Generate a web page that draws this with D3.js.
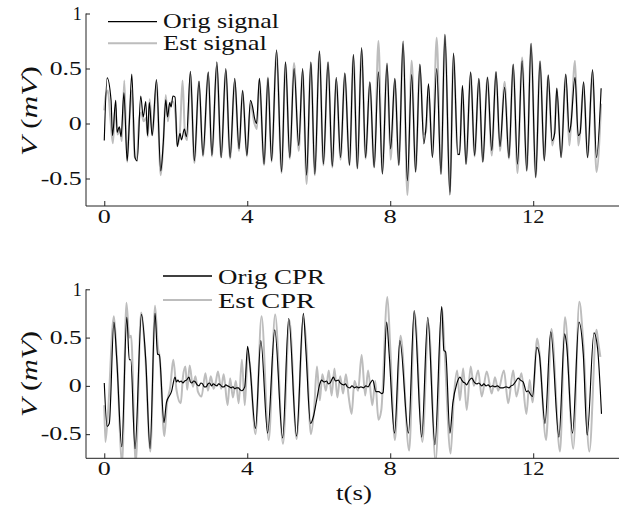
<!DOCTYPE html>
<html><head><meta charset="utf-8">
<script src="https://cdn.jsdelivr.net/npm/d3@7"></script>
<style>body{margin:0;background:#fff}svg{display:block}</style>
</head><body><svg id="c" width="619" height="516"></svg>
<script>
// ---------- data ----------
const xTickValues = [0, 4, 8, 12];
const xTickLabels = ["0", "4", "8", "12"];
const yTickValues = [-0.5, 0, 0.5, 1];
const yTickLabels = ["-0.5", "0", "0.5", "1"];
const topLegend = ["Orig signal", "Est signal"];
const bottomLegend = ["Orig CPR", "Est CPR"];
const xLabel = "t(s)";

// [time (s), value (mV)]
const origSignal = [[0,-0.155],[0.08,0.415],[0.19,0.21],[0.23,-0.11],[0.32,0.21],[0.36,-0.08],[0.42,-0.03],[0.47,-0.12],[0.55,0.28],[0.64,-0.34],[0.70,0],[0.77,0.45],[0.86,-0.31],[0.92,-0.34],[1.02,0.25],[1.09,0.06],[1.16,0.2],[1.21,-0.11],[1.26,0.19],[1.34,-0.11],[1.46,0.4],[1.58,-0.43],[1.65,-0.18],[1.72,0.215],[1.77,0.06],[1.83,0.19],[1.87,0.15],[1.92,0.25],[1.98,0.24],[2.04,-0.21],[2.12,-0.09],[2.16,-0.15],[2.24,-0.05],[2.30,-0.12],[2.41,0.475],[2.52,-0.34],[2.65,0.385],[2.76,-0.29],[2.91,0.47],[3.01,-0.29],[3.15,0.56],[3.27,-0.31],[3.40,0.50],[3.52,-0.31],[3.65,0.41],[3.77,-0.23],[3.87,0.30],[3.99,-0.29],[4.09,0.21],[4.15,0.15],[4.21,0.04],[4.26,0],[4.34,0.41],[4.47,-0.37],[4.58,0.415],[4.68,-0.34],[4.82,0.67],[4.96,-0.44],[5.07,0.56],[5.19,-0.31],[5.31,0.50],[5.44,-0.2],[5.55,0.50],[5.66,-0.47],[5.78,0.56],[5.89,-0.46],[6.02,0.66],[6.13,-0.37],[6.26,0.56],[6.38,-0.39],[6.49,0.42],[6.61,-0.31],[6.73,0.46],[6.86,-0.38],[6.97,0.63],[7.08,-0.41],[7.20,0.69],[7.31,-0.31],[7.43,0.38],[7.55,-0.40],[7.67,0.47],[7.78,-0.46],[7.91,0.55],[8.01,-0.23],[8.13,0.41],[8.24,-0.38],[8.36,0.75],[8.48,-0.52],[8.60,0.445],[8.71,-0.44],[8.83,0.54],[8.94,-0.185],[9.00,-0.03],[9.07,0.36],[9.18,-0.31],[9.30,0.50],[9.42,-0.46],[9.53,0.81],[9.67,-0.65],[9.77,0.64],[9.89,-0.28],[9.94,-0.28],[10.02,0.345],[10.12,-0.37],[10.25,0.47],[10.36,-0.29],[10.48,0.41],[10.59,-0.35],[10.72,0.42],[10.84,-0.245],[10.96,0.47],[11.07,-0.21],[11.20,0.33],[11.32,-0.31],[11.44,0.54],[11.56,-0.37],[11.69,0.57],[11.82,-0.43],[11.94,0.73],[12.07,-0.49],[12.19,0.57],[12.31,-0.34],[12.42,0.44],[12.53,-0.155],[12.60,-0.09],[12.66,0.32],[12.78,-0.31],[12.91,0.45],[13.01,-0.08],[13.05,-0.02],[13.17,0.42],[13.26,-0.11],[13.31,-0.09],[13.41,0.38],[13.52,-0.31],[13.66,0.49],[13.77,-0.31],[13.90,0.32]];

const estSignal = [[0,0.12],[0.04,0.25],[0.1,0.3],[0.17,0.05],[0.24,-0.18],[0.31,0.15],[0.37,-0.1],[0.44,-0.05],[0.49,-0.16],[0.56,0.39],[0.64,-0.35],[0.7,0.02],[0.77,0.3],[0.85,-0.3],[0.91,-0.33],[0.98,0.05],[1.04,0.1],[1.1,0.02],[1.17,0.05],[1.22,-0.12],[1.27,0.22],[1.35,-0.1],[1.46,0.38],[1.58,-0.47],[1.65,-0.2],[1.72,0.26],[1.78,0.02],[1.84,0.18],[1.92,0.2],[2.0,0.05],[2.05,-0.2],[2.12,-0.05],[2.19,0.39],[2.26,-0.1],[2.32,-0.15],[2.41,0.45],[2.52,-0.36],[2.65,0.38],[2.76,-0.3],[2.91,0.46],[3.01,-0.3],[3.15,0.52],[3.27,-0.31],[3.4,0.48],[3.52,-0.32],[3.65,0.38],[3.77,-0.25],[3.87,0.3],[3.99,-0.3],[4.09,0.18],[4.2,0.0],[4.27,-0.05],[4.34,0.4],[4.47,-0.38],[4.58,0.42],[4.68,-0.35],[4.82,0.65],[4.96,-0.45],[5.07,0.55],[5.19,-0.32],[5.31,0.55],[5.44,-0.25],[5.55,0.48],[5.66,-0.55],[5.78,0.55],[5.89,-0.47],[6.02,0.65],[6.13,-0.38],[6.26,0.55],[6.38,-0.4],[6.49,0.4],[6.61,-0.33],[6.73,0.45],[6.86,-0.38],[6.97,0.62],[7.08,-0.41],[7.2,0.67],[7.31,-0.32],[7.43,0.37],[7.55,-0.4],[7.67,0.75],[7.78,-0.45],[7.91,0.53],[8.01,-0.33],[8.13,0.4],[8.24,-0.38],[8.36,0.72],[8.48,-0.65],[8.6,0.57],[8.71,-0.44],[8.83,0.53],[8.94,-0.1],[9.0,-0.08],[9.07,0.34],[9.18,-0.3],[9.3,0.78],[9.42,-0.46],[9.53,0.8],[9.67,-0.62],[9.77,0.62],[9.89,-0.28],[9.94,-0.28],[10.02,0.34],[10.12,-0.37],[10.25,0.46],[10.36,-0.3],[10.48,0.4],[10.59,-0.35],[10.72,0.42],[10.84,-0.29],[10.96,0.47],[11.07,-0.25],[11.2,0.38],[11.32,-0.32],[11.44,0.53],[11.56,-0.45],[11.69,0.6],[11.82,-0.43],[11.94,0.72],[12.07,-0.49],[12.19,0.56],[12.31,-0.33],[12.42,0.44],[12.53,-0.2],[12.6,-0.05],[12.66,0.32],[12.78,-0.3],[12.91,0.44],[13.01,-0.2],[13.05,-0.05],[13.17,0.57],[13.26,-0.2],[13.31,-0.1],[13.41,0.37],[13.52,-0.31],[13.66,0.47],[13.77,-0.44],[13.9,0.18]];

const origCPR = [[0,0.03],[0.08,-0.42],[0.14,-0.39],[0.27,0.66],[0.35,0.27],[0.49,-0.63],[0.63,0.71],[0.70,0.27],[0.74,0.27],[0.86,-0.65],[1.04,0.74],[1.16,0.27],[1.28,-0.65],[1.42,0.75],[1.49,0.33],[1.54,0.32],[1.67,-0.38],[1.74,-0.17],[1.88,-0.06],[1.98,0.09],[2.02,0.04],[2.06,0.06],[2.1,0.04],[2.15,0.05],[2.2,0.03],[2.25,0.05],[2.3,0.06],[2.37,0.09],[2.41,0.04],[2.45,0.03],[2.5,0.05],[2.55,0.04],[2.6,0.01],[2.65,0.0],[2.7,0.03],[2.75,0.02],[2.8,-0.01],[2.85,-0.01],[2.9,0.02],[2.95,0.03],[3.0,0.0],[3.05,0.02],[3.1,0.01],[3.15,0.0],[3.2,0.02],[3.25,0.01],[3.3,-0.01],[3.35,-0.01],[3.4,0.01],[3.45,0.0],[3.5,-0.01],[3.55,-0.02],[3.6,-0.01],[3.65,-0.03],[3.7,-0.02],[3.75,-0.02],[3.8,-0.04],[3.85,-0.05],[3.93,-0.01],[4.01,0.41],[4.07,0.23],[4.23,-0.44],[4.38,0.47],[4.57,-0.49],[4.77,0.58],[4.99,-0.54],[5.16,0.70],[5.38,-0.52],[5.57,0.75],[5.64,0.37],[5.77,-0.39],[5.85,-0.32],[5.94,-0.15],[6.03,0.02],[6.08,0.06],[6.15,0.04],[6.22,0.05],[6.27,0.02],[6.32,0.03],[6.36,0.06],[6.41,0.09],[6.47,0.05],[6.55,0.06],[6.6,0.03],[6.69,0.01],[6.75,0.02],[6.8,-0.01],[6.87,-0.02],[6.93,0.0],[7.0,-0.02],[7.06,-0.01],[7.12,-0.02],[7.18,-0.01],[7.25,-0.02],[7.32,0.0],[7.38,-0.01],[7.43,0.02],[7.51,0.06],[7.60,-0.06],[7.68,-0.06],[7.76,-0.08],[7.80,-0.07],[7.90,0.66],[7.97,0.33],[8.12,-0.49],[8.27,0.47],[8.51,-0.49],[8.67,0.78],[8.88,-0.53],[9.05,0.71],[9.25,-0.61],[9.44,0.82],[9.50,0.37],[9.55,0.35],[9.67,-0.49],[9.75,-0.18],[9.86,0.02],[9.95,0.09],[10.0,0.06],[10.04,0.04],[10.09,0.03],[10.14,0.01],[10.2,0.05],[10.28,0.08],[10.35,0.04],[10.42,0.02],[10.48,0.03],[10.56,0.0],[10.62,0.02],[10.68,0.0],[10.74,0.01],[10.8,-0.01],[10.86,0.0],[10.93,-0.01],[11.0,0.0],[11.08,-0.02],[11.16,-0.02],[11.24,-0.01],[11.32,-0.02],[11.38,0.0],[11.44,0.01],[11.5,0.04],[11.58,0.08],[11.64,0.06],[11.72,0.04],[11.81,-0.06],[11.86,-0.05],[11.91,-0.08],[11.98,-0.11],[12.10,0.40],[12.17,0.33],[12.33,-0.39],[12.49,0.56],[12.72,-0.53],[12.88,0.54],[12.93,0.44],[13.10,-0.49],[13.28,0.66],[13.40,0.33],[13.51,-0.51],[13.70,0.55],[13.80,0.39],[13.91,-0.29]];

const estCPR = [[0,-0.2],[0.03,-0.58],[0.1,-0.3],[0.27,0.72],[0.35,0.3],[0.5,-0.8],[0.62,0.86],[0.7,0.5],[0.75,0.52],[0.88,-0.8],[1.03,0.76],[1.15,0.3],[1.29,-0.68],[1.42,0.83],[1.5,0.4],[1.55,0.3],[1.68,-0.52],[1.75,-0.2],[1.85,0.0],[1.93,0.27],[2.02,-0.04],[2.14,-0.18],[2.2,0.09],[2.27,0.2],[2.32,-0.04],[2.39,0.21],[2.48,-0.01],[2.55,0.1],[2.62,-0.06],[2.72,-0.11],[2.83,0.13],[2.9,-0.05],[2.98,0.1],[3.06,-0.03],[3.12,0.04],[3.18,0.15],[3.27,-0.03],[3.34,0.12],[3.45,-0.2],[3.52,0.08],[3.6,-0.12],[3.68,0.05],[3.76,-0.18],[3.85,0.27],[3.93,-0.2],[4.02,0.35],[4.08,0.2],[4.23,-0.5],[4.4,0.72],[4.6,-0.56],[4.78,0.74],[5.0,-0.6],[5.18,0.68],[5.38,-0.55],[5.57,0.7],[5.65,0.45],[5.78,-0.5],[5.87,-0.25],[5.95,0.2],[6.03,-0.15],[6.1,0.12],[6.2,-0.05],[6.28,0.16],[6.36,-0.1],[6.44,0.18],[6.52,-0.12],[6.6,0.1],[6.68,-0.08],[6.76,0.12],[6.84,-0.12],[6.92,-0.29],[7.0,0.05],[7.1,-0.05],[7.2,0.32],[7.3,-0.1],[7.38,0.16],[7.5,-0.2],[7.58,0.05],[7.67,-0.35],[7.75,-0.25],[7.92,0.92],[8.0,0.4],[8.13,-0.56],[8.29,0.52],[8.53,-0.67],[8.68,0.76],[8.9,-0.58],[9.07,0.65],[9.27,-0.78],[9.45,0.81],[9.52,0.37],[9.69,-0.7],[9.78,-0.11],[9.87,0.16],[9.95,-0.15],[10.04,0.18],[10.14,-0.25],[10.25,0.2],[10.34,0.0],[10.46,0.16],[10.56,-0.11],[10.7,0.15],[10.84,-0.08],[10.93,0.09],[11.02,-0.05],[11.18,0.16],[11.3,-0.18],[11.44,0.16],[11.53,-0.11],[11.67,0.13],[11.81,-0.29],[11.9,0.06],[11.98,-0.17],[12.11,0.49],[12.17,0.36],[12.36,-0.56],[12.51,0.59],[12.75,-0.68],[12.89,0.71],[13.12,-0.65],[13.29,0.87],[13.4,0.45],[13.57,-0.68],[13.77,0.58],[13.82,0.45],[13.88,0.3]];

// ---------- drawing ----------
const FONT = "'Liberation Serif','DejaVu Serif',serif";
const labelWidth = {"-0.5":41,"0":13,"0.5":32,"1":9,"4":12.7,"8":13.3,"12":22.3};
const svg = d3.select("#c");
const x = d3.scaleLinear().domain([-0.5, 14.4]).range([86.4, 619]);
const AXX = 86;

function txt(g, xp, yp, s, size, anchor, len) {
  const t = g.append("text").attr("x", xp).attr("y", yp)
    .attr("font-family", FONT).attr("font-size", size)
    .attr("text-anchor", anchor).attr("fill", "#111").text(s);
  if (len) t.attr("textLength", len).attr("lengthAdjust", "spacingAndGlyphs");
  return t;
}

function panel(cfg) {
  const y = d3.scaleLinear().domain([-0.75, 1]).range([cfg.bottom, cfg.top]);
  const g = svg.append("g");
  const cid = "clip" + cfg.id;
  svg.append("defs").append("clipPath").attr("id", cid)
    .append("rect").attr("x", AXX).attr("y", cfg.top - 2)
    .attr("width", 619 - AXX).attr("height", cfg.bottom - cfg.top + 2);

  const line = d3.line().x(d => x(d[0])).y(d => y(d[1])).curve(d3.curveMonotoneX);
  const plot = g.append("g").attr("clip-path", `url(#${cid})`);
  plot.append("path").datum(cfg.est).attr("d", line)
    .attr("fill", "none").attr("stroke", "#bdbdbd").attr("stroke-width", 2).attr("stroke-linejoin", "round");
  plot.append("path").datum(cfg.orig).attr("d", line)
    .attr("fill", "none").attr("stroke", "#000").attr("stroke-width", 1.15).attr("stroke-linejoin", "round");

  // axes
  const xa = g.append("g").attr("transform", `translate(0,${cfg.bottom})`)
    .call(d3.axisBottom(x).tickValues(xTickValues).tickSize(-5).tickSizeOuter(0).tickFormat(""));
  const ya = g.append("g").attr("transform", `translate(${AXX},0)`)
    .call(d3.axisLeft(y).tickValues(yTickValues).tickSize(-4).tickSizeOuter(0).tickFormat(""));
  [xa, ya].forEach(a => { a.selectAll("path,line").attr("stroke", "#222").attr("stroke-width", 1); });
  xa.select(".domain").attr("d", `M${AXX},0H619`);
  ya.select(".domain").attr("d", `M0,${cfg.top}V${cfg.bottom}`);

  xTickValues.forEach((v, i) => txt(g, x(v), cfg.bottom + 16.5, xTickLabels[i], 19, "middle", labelWidth[xTickLabels[i]]));
  yTickValues.forEach((v, i) => txt(g, 81.7, y(v) + 6.3, yTickLabels[i], 19, "end", labelWidth[yTickLabels[i]]));

  // y label
  const yl = g.append("text").attr("transform", `translate(37,${cfg.ylabelY}) rotate(-90)`)
    .attr("font-family", FONT).attr("font-size", 24).attr("text-anchor", "middle").attr("fill", "#111")
    .attr("textLength", cfg.ylabelLen).attr("lengthAdjust", "spacingAndGlyphs");
  yl.append("tspan").attr("font-style", "italic").text("V");
  yl.append("tspan").text(" (");
  yl.append("tspan").attr("font-style", "italic").text("mV");
  yl.append("tspan").text(")");

  // legend
  const L = cfg.legend;
  [["#000", 1.3], ["#bdbdbd", 2]].forEach((st, i) => {
    g.append("line").attr("x1", L.x1).attr("x2", L.x2).attr("y1", L.ys[i]).attr("y2", L.ys[i])
      .attr("stroke", st[0]).attr("stroke-width", st[1]);
    txt(g, L.tx, L.bs[i], L.labels[i], 21, "start", L.widths[i]);
  });
}

panel({id: 1, top: 13.5, bottom: 206, orig: origSignal, est: estSignal, ylabelY: 111, ylabelLen: 90,
  legend: {x1: 108, x2: 157, ys: [21.7, 43.3], tx: 163, bs: [27.5, 50], labels: topLegend, widths: [116, 104]}});
panel({id: 2, top: 289.3, bottom: 458.3, orig: origCPR, est: estCPR, ylabelY: 374, ylabelLen: 86,
  legend: {x1: 163, x2: 212, ys: [276, 300], tx: 218, bs: [283.5, 307.7], labels: bottomLegend, widths: [107, 97]}});

txt(svg, 354, 500, xLabel, 21, "middle", 36);
</script></body></html>
